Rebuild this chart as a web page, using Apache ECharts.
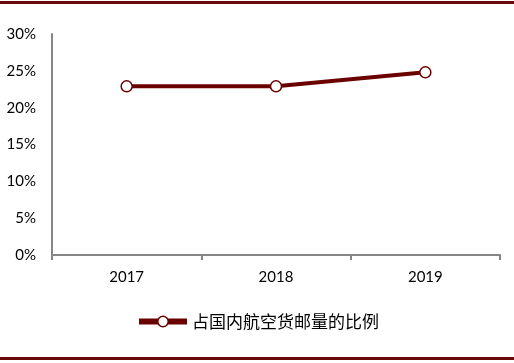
<!DOCTYPE html>
<html><head><meta charset="utf-8">
<script src="https://cdn.jsdelivr.net/npm/echarts@6/dist/echarts.min.js"></script>
<style>html,body{margin:0;padding:0;background:#fff;}#c{width:514px;height:363px;}
.bt{position:absolute;left:0;width:514px;height:3px;background:#6b0a0a;}</style>
</head><body>
<div id="c"></div>
<div class="bt" style="top:1px"></div>
<div class="bt" style="top:357px"></div>
<script>
const categories = ['2017', '2018', '2019'];
const seriesName = '占国内航空货邮量的比例';
const values = [22.9, 22.9, 24.8];
const yTicks = [0, 5, 10, 15, 20, 25, 30];

const chart = echarts.init(document.getElementById('c'));
chart.setOption({
  animation: false,
  grid: {left: 52, right: 14, top: 34, bottom: 108},
  xAxis: {
    type: 'category', data: categories, boundaryGap: true,
    axisLine: {lineStyle: {color: '#868686', width: 2}},
    axisTick: {show: true, length: 5, lineStyle: {color: '#868686', width: 2}},
    axisLabel: {color: '#000', fontFamily: 'Lato', fontSize: 15, margin: 15}
  },
  yAxis: {
    type: 'value', min: yTicks[0], max: yTicks[yTicks.length - 1], interval: 5,
    axisLine: {show: true, lineStyle: {color: '#868686', width: 2}},
    axisTick: {show: false},
    splitLine: {show: false},
    axisLabel: {color: '#000', fontFamily: 'Lato', fontSize: 15, margin: 16, formatter: v => v + '%'}
  },
  legend: {
    data: [seriesName], top: 308, left: 131,
    itemWidth: 48, itemHeight: 13, itemGap: 6,
    lineStyle: {width: 6, color: '#6b0000'},
    itemStyle: {borderWidth: 1.5},
    textStyle: {fontFamily: 'Noto Sans CJK SC', fontSize: 17, color: '#000'}
  },
  series: [{
    name: seriesName, type: 'line', data: values,
    symbol: 'circle', symbolSize: 11,
    lineStyle: {color: '#6b0000', width: 4},
    itemStyle: {color: '#fff', borderColor: '#6b0000', borderWidth: 1.5}
  }]
});
</script>
</body></html>
